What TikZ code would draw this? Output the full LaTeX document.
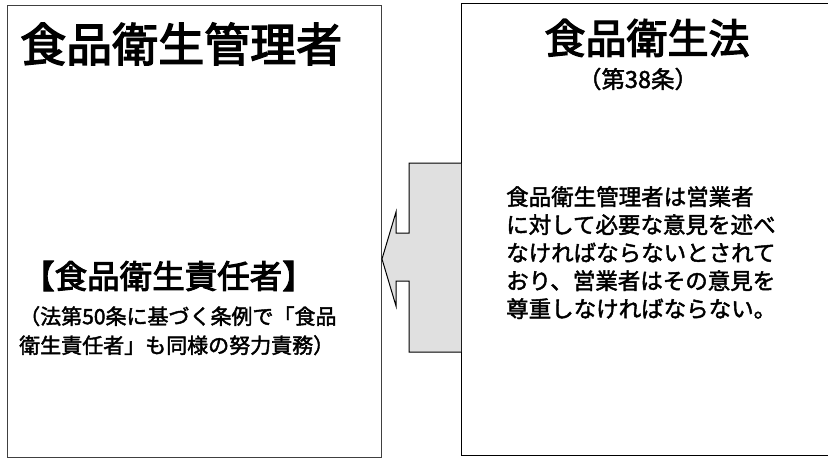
\documentclass[tikz,border=0pt]{standalone}
\usepackage{fontspec}
\setmainfont{Noto Sans CJK JP}
\newfontfamily\jpmed{Noto Sans CJK JP}[FakeBold=3]
\newfontfamily\jpsemi{Noto Sans CJK JP}[FakeBold=2]
\begin{document}
\begin{tikzpicture}[x=1pt,y=-1pt,
  panel/.style={draw, anchor=north west, inner sep=0pt},
  txt/.style={inner sep=0pt, font=#1},
  txt/.default={}]
\useasboundingbox (0,0) rectangle (828,460);
% left panel
\node[panel, draw=black!75, line width=0.8pt, minimum width=374pt, minimum height=452pt] (left) at (7,5) {};
% right panel
\node[panel, line width=1pt, minimum width=400pt, minimum height=452pt] (right) at (461,3) {};
% arrow
\coordinate (tip) at (382,259);
\draw[line width=1pt, fill=black!12]
  (461,163) -- (409,163) -- (409,233) -- (396,233) -- (396,212) -- (tip)
  -- (396,306) -- (396,281) -- (409,281) -- (409,352) -- (461,352);
% left texts
\node[txt={\fontsize{46}{46}\selectfont\jpmed}, anchor=west] (t1) at (20,44) {食品衛生管理者};
\node[txt={\fontsize{32.5}{32.5}\selectfont\jpmed}, anchor=west] (t2) at (22,276) {【食品衛生責任者】};
\node[txt={\fontsize{21}{29}\selectfont\jpsemi}, anchor=north west, align=left] (t3) at (19,306)
  {（法第50条に基づく条例で「食品\\衛生責任者」も同様の努力責務）};
% right texts
\node[txt={\fontsize{41}{41}\selectfont\jpmed}] (r1) at (647,38) {食品衛生法};
\node[txt={\fontsize{23.5}{23.5}\selectfont\jpsemi}] (r2) at (638,79) {（第38条）};
\node[txt={\fontsize{22.5}{28}\selectfont\jpsemi}, anchor=north west, align=left] (r3) at (506,186)
  {食品衛生管理者は営業者\\に対して必要な意見を述べ\\なければならないとされて\\おり、営業者はその意見を\\尊重しなければならない。};
\end{tikzpicture}
\end{document}
